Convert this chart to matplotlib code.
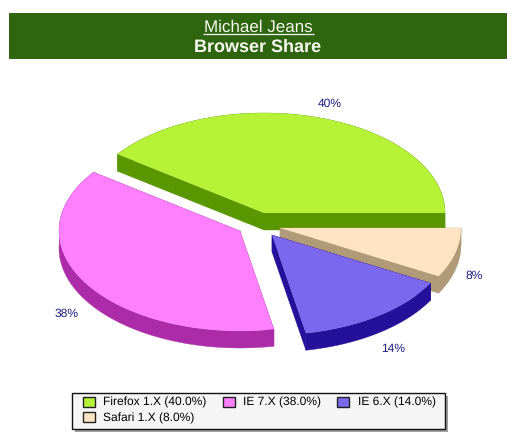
import numpy as np
import matplotlib
matplotlib.use("Agg")
import matplotlib.pyplot as plt
from matplotlib.patches import Polygon, Rectangle

browsers = ["Firefox 1.X", "IE 7.X", "IE 6.X", "Safari 1.X"]
shares = [40.0, 38.0, 14.0, 8.0]
top_colors = ["#b6f236", "#ff80ff", "#7b68ee", "#ffe4c4"]
side_colors = ["#5a9600", "#ab2ba8", "#25109a", "#b09a78"]
title_main = "Michael Jeans"
title_sub = "Browser Share"

# layout, in pixels of the 514x444 image
apexes = [(264, 213), (240, 231), (272, 235), (280, 228)]
label_xy = [(330, 104), (67, 314), (393, 349), (474, 276)]
rx, ry, depth = 181, 100, 17
draw_order = [0, 1, 3, 2]

plt.rcParams["font.family"] = ["Liberation Sans", "DejaVu Sans"]
plt.rcParams["text.hinting"] = "no_hinting"
plt.rcParams["text.hinting_factor"] = 1
fig = plt.figure(figsize=(5.14, 4.44), dpi=100)
ax = fig.add_axes([0, 0, 1, 1])
ax.set_xlim(0, 514)
ax.set_ylim(444, 0)
ax.axis("off")

# header band
ax.add_patch(Rectangle((9, 13), 498, 46, fc="#2f650f", ec="none"))
ax.text(258.5, 27, title_main, color="#f4f8ee", fontsize=12.6, ha="center", va="center")
ax.plot([203, 314], [34.5, 34.5], color="#f4f8ee", lw=0.9, solid_capstyle="butt")
ax.text(258, 47.5, title_sub, color="#f8fbf4", fontsize=13.1, fontweight="bold", ha="center", va="center")

# slices
edges = np.concatenate([[0], np.cumsum(shares)]) / sum(shares) * 2 * np.pi
for z, i in enumerate(draw_order):
    a0, a1 = edges[i], edges[i + 1]
    t = np.linspace(a0, a1, 120)
    cx, cy = apexes[i]
    arc = np.column_stack([cx + rx * np.cos(t), cy - ry * np.sin(t)])
    apex = np.array([[cx, cy]], dtype=float)
    shift = np.array([0, depth])
    style = dict(closed=True, fc=side_colors[i], ec=side_colors[i], lw=0.3, zorder=3 + z)
    # outer wall, then the two radial walls
    ax.add_patch(Polygon(np.vstack([arc, (arc + shift)[::-1]]), **style))
    for end in (arc[0], arc[-1]):
        ax.add_patch(Polygon([apex[0], end, end + shift, apex[0] + shift], **style))
    ax.add_patch(Polygon(np.vstack([apex, arc]), closed=True, fc=top_colors[i], ec="none",
                         zorder=3 + z + 0.5))

# percent labels
for s, (lx, ly) in zip(shares, label_xy):
    ax.text(lx, ly, f"{s:.0f}%", color="#1c1c80", fontsize=8.6, ha="center", va="center", zorder=20)

# legend box and shadow
ax.add_patch(Rectangle((75, 396), 373, 36, fc="#a0a0a0", ec="none", zorder=24))
ax.add_patch(Rectangle((72, 393), 373, 36, fc="#f5f5f5", ec="#111111", lw=1.0, zorder=24.5))

# legend (matplotlib fills columns, so Safari goes second to sit under Firefox)
order = [0, 3, 1, 2]
handles = [Rectangle((0, 0), 1, 1, fc=top_colors[i], ec="#222222", lw=1.0) for i in order]
texts = [f"{browsers[i]} ({shares[i]:.1f}%)" for i in order]
leg = ax.legend(handles, texts, ncol=3, loc="upper left",
                bbox_to_anchor=(82.5 / 514, 1 - 396.5 / 444), bbox_transform=ax.transAxes,
                fontsize=8.7, frameon=False,
                borderaxespad=0, borderpad=0, handlelength=1.0, handleheight=0.9,
                handletextpad=0.72, columnspacing=1.32, labelspacing=0.32)
leg.set_zorder(25)

fig.savefig("out.png", dpi=100, facecolor="white")
